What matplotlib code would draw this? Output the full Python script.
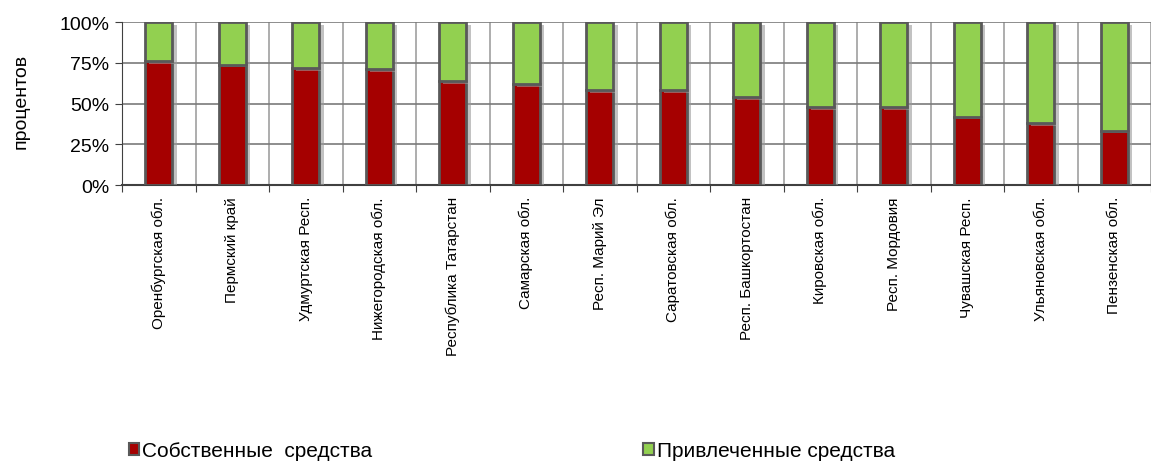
import matplotlib.pyplot as plt
import matplotlib.patheffects as pe
from matplotlib.patches import Patch
from matplotlib.ticker import FuncFormatter

plt.rcParams["font.family"] = ["Liberation Sans", "DejaVu Sans"]

regions = [
    "Оренбургская обл.", "Пермский край", "Удмуртская Респ.",
    "Нижегородская обл.", "Республика Татарстан", "Самарская обл.",
    "Респ. Марий Эл", "Саратовская обл.", "Респ. Башкортостан",
    "Кировская обл.", "Респ. Мордовия", "Чувашская Респ.",
    "Ульяновская обл.", "Пензенская обл.",
]
own_funds = [76, 74, 72, 71, 64, 62, 58.5, 58.5, 54, 48, 48, 42, 38, 33.5]
borrowed_funds = [100 - v for v in own_funds]

red = "#A50000"
green = "#92D050"
edge = "#595959"

fig = plt.figure(figsize=(11.51, 4.64), dpi=100)
ax = fig.add_axes([0.106, 0.599, 0.894, 0.351])

x = [i + 0.5 for i in range(len(regions))]
shadow = [pe.SimplePatchShadow(offset=(3, -2), shadow_rgbFace="#9a9a9a", alpha=0.6), pe.Normal()]
b1 = ax.bar(x, own_funds, width=0.37, color=red, edgecolor=edge, linewidth=2, zorder=3)
b2 = ax.bar(x, borrowed_funds, bottom=own_funds, width=0.37, color=green,
            edgecolor=edge, linewidth=2, zorder=3)
for p in list(b1) + list(b2):
    p.set_path_effects(shadow)

ax.set_xlim(0, len(regions))
ax.set_ylim(0, 100)
ax.set_yticks([0, 25, 50, 75, 100])
ax.yaxis.set_major_formatter(FuncFormatter(lambda v, _: f"{int(v)}%"))
ax.set_xticks(range(len(regions) + 1))
ax.set_xticklabels([])
ax.set_xticks(x, minor=True)
ax.set_xticklabels(regions, minor=True, rotation=90, va="top", ha="center")
ax.tick_params(axis="x", which="major", length=5, color="#404040")
ax.tick_params(axis="x", which="minor", length=0, pad=8, labelsize=11)
ax.tick_params(axis="y", length=5, color="#404040", labelsize=14, pad=4)

ax.xaxis.grid(True, which="major", color="#a0a0a0", linewidth=1.2, zorder=0)
ax.yaxis.grid(True, which="major", color="#7a7a7a", linewidth=1.2, zorder=0)
ax.set_axisbelow(True)
for s in ["top", "right"]:
    ax.spines[s].set_visible(False)
ax.spines["left"].set_color("#404040")
ax.spines["bottom"].set_color("#404040")
ax.spines["bottom"].set_linewidth(1.5)

ax.set_ylabel("процентов", fontsize=14, labelpad=10)
ax.yaxis.set_label_coords(-0.09, 0.52)

leg_kw = dict(loc="center left", frameon=False, fontsize=15, handlelength=0.5,
              handleheight=0.5, handletextpad=0.15, borderpad=0, borderaxespad=0)
fig.legend([Patch(facecolor=red, edgecolor=edge, linewidth=1.5)],
           ["Собственные  средства"], bbox_to_anchor=(0.112, 0.027), **leg_kw)
fig.legend([Patch(facecolor=green, edgecolor=edge, linewidth=1.5)],
           ["Привлеченные средства"], bbox_to_anchor=(0.559, 0.027), **leg_kw)

fig.savefig("out.png", dpi=100)
